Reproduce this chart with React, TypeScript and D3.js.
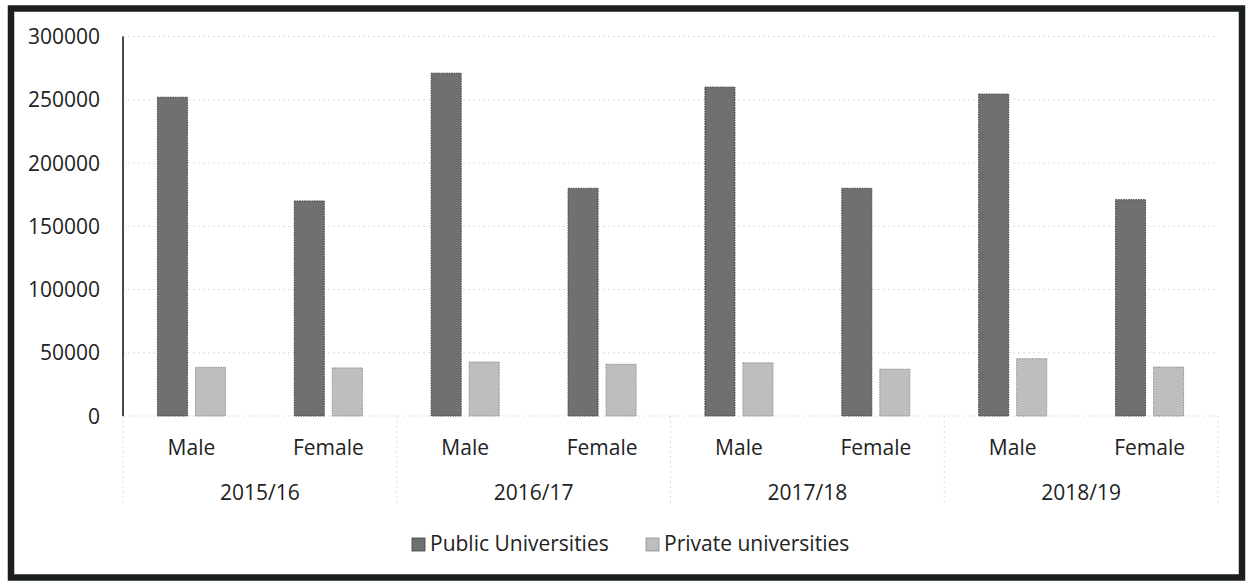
import React from "react";
import * as d3 from "d3";

// Enrolment by sex and university type, per academic year
const years = ["2015/16", "2016/17", "2017/18", "2018/19"];
const sexes = ["Male", "Female"];
const seriesNames = ["Public Universities", "Private universities"];
const publicValues = [252000, 170000, 271000, 180000, 260000, 180000, 254500, 171000];
const privateValues = [38500, 38000, 42700, 40900, 42000, 37000, 45300, 38700];
const yTicks = [0, 50000, 100000, 150000, 200000, 250000, 300000];

const W = 1250;
const H = 582;
const plot = { left: 123, right: 1218, top: 36.5, bottom: 416 };
const FONT = "'Open Sans', 'DejaVu Sans', sans-serif";
const FS = 21;
const colors = {
  pub: "#6f7070",
  pubEdge: "#3f4040",
  priv: "#bdbebf",
  privEdge: "#8d8e8f",
};

export default function App() {
  const cats = years.flatMap((yr) => sexes.map((s) => `${yr}|${s}`));
  const x0 = d3.scaleBand<string>().domain(cats).range([plot.left, plot.right]).paddingInner(0).paddingOuter(0);
  const x1 = d3
    .scaleBand<string>()
    .domain(seriesNames)
    .range([0, x0.bandwidth()])
    .paddingInner(0.21)
    .paddingOuter(0.905);
  const y = d3.scaleLinear().domain([0, 300000]).range([plot.bottom, plot.top]);

  const rows = cats.map((c, i) => ({ c, vals: [publicValues[i], privateValues[i]] }));
  const yearX = d3.scaleBand<string>().domain(years).range([plot.left, plot.right]);

  return (
    <svg width={W} height={H} style={{ position: "absolute", left: 0, top: 0 }} fontFamily={FONT}>
      <rect x={0} y={0} width={W} height={H} fill="#ffffff" />
      {/* frame */}
      <rect x={11} y={8.5} width={1231} height={569} fill="#ffffff" stroke="#1b201d" strokeWidth={6.5} />

      {/* horizontal gridlines */}
      {yTicks.map((t) => (
        <line
          key={`g${t}`}
          x1={plot.left}
          x2={plot.right}
          y1={y(t)}
          y2={y(t)}
          stroke="#dcdcdc"
          strokeWidth={1}
          strokeDasharray="2 3"
        />
      ))}

      {/* y tick labels */}
      {yTicks.map((t) => (
        <text key={`t${t}`} x={100} y={y(t) + 7.5} textAnchor="end" fontSize={FS} fill="#222">
          {t}
        </text>
      ))}

      {/* y axis line */}
      <line x1={plot.left} x2={plot.left} y1={plot.top} y2={plot.bottom} stroke="#1e1e1e" strokeWidth={1.6} />

      {/* bars */}
      {rows.map((r) =>
        r.vals.map((v, j) => (
          <rect
            key={`${r.c}-${j}`}
            x={(x0(r.c) as number) + (x1(seriesNames[j]) as number)}
            y={y(v)}
            width={x1.bandwidth()}
            height={y(0) - y(v)}
            fill={j === 0 ? colors.pub : colors.priv}
            stroke={j === 0 ? colors.pubEdge : colors.privEdge}
            strokeWidth={1}
            strokeDasharray="1.5 1"
          />
        ))
      )}

      {/* group separators on the category axis */}
      {[...years.map((yr) => yearX(yr) as number), plot.right].map((xx, i) => (
        <line
          key={`s${i}`}
          x1={xx}
          x2={xx}
          y1={plot.bottom}
          y2={503}
          stroke="#dcdcdc"
          strokeWidth={1}
          strokeDasharray="2 3"
        />
      ))}

      {/* sex labels */}
      {cats.map((c, i) => (
        <text
          key={`c${c}`}
          x={(x0(c) as number) + x0.bandwidth() / 2}
          y={455}
          textAnchor="middle"
          fontSize={FS}
          fill="#222"
        >
          {sexes[i % 2]}
        </text>
      ))}

      {/* year labels */}
      {years.map((yr) => (
        <text
          key={`y${yr}`}
          x={(yearX(yr) as number) + yearX.bandwidth() / 2}
          y={500}
          textAnchor="middle"
          fontSize={FS}
          fill="#222"
        >
          {yr}
        </text>
      ))}

      {/* legend */}
      <g>
        <rect x={412} y={538} width={13} height={13} fill={colors.pub} stroke={colors.pubEdge} strokeWidth={0.8} />
        <text x={430} y={551} fontSize={FS} fill="#222">
          {seriesNames[0]}
        </text>
        <rect x={646} y={538} width={13} height={13} fill={colors.priv} stroke={colors.privEdge} strokeWidth={0.8} />
        <text x={664} y={551} fontSize={FS} fill="#222">
          {seriesNames[1]}
        </text>
      </g>
    </svg>
  );
}
